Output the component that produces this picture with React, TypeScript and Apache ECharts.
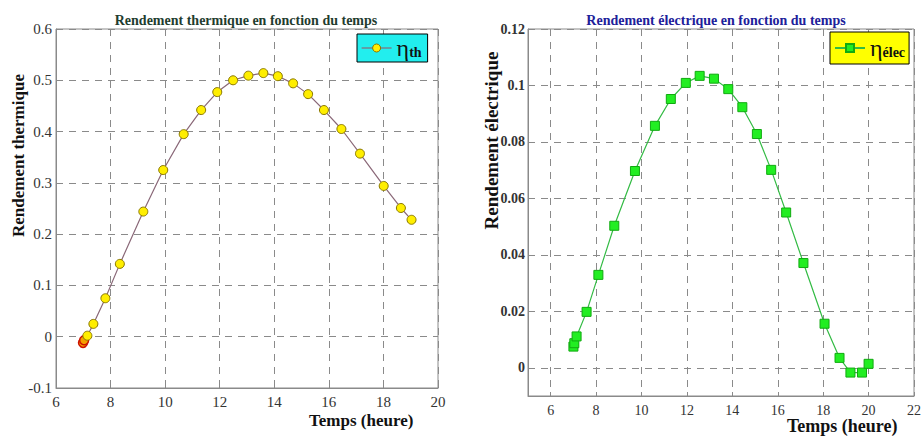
import React, { useEffect, useRef } from "react";
import * as echarts from "echarts";

const xTh = [6.99, 7.03, 7.15, 7.37, 7.81, 8.34, 9.2, 9.93, 10.68, 11.32, 11.91, 12.49, 13.05, 13.6, 14.13, 14.69, 15.24, 15.82, 16.46, 17.14, 18.01, 18.64, 19.03];
const yTh = [-0.012, -0.007, 0.002, 0.025, 0.075, 0.142, 0.244, 0.325, 0.395, 0.442, 0.477, 0.5, 0.509, 0.514, 0.508, 0.494, 0.473, 0.442, 0.405, 0.357, 0.294, 0.251, 0.228];

const xEl = [7.0, 7.04, 7.14, 7.58, 8.1, 8.8, 9.71, 10.59, 11.29, 11.95, 12.56, 13.19, 13.82, 14.44, 15.08, 15.71, 16.37, 17.13, 18.06, 18.72, 19.2, 19.71, 20.0];
const yEl = [0.0075, 0.0087, 0.0111, 0.0198, 0.0329, 0.0503, 0.0697, 0.0857, 0.0952, 0.1009, 0.1034, 0.1024, 0.0987, 0.0923, 0.0828, 0.0701, 0.055, 0.0371, 0.0156, 0.0035, -0.0017, -0.0017, 0.0014];

const elXTicks = [6, 8, 10, 12, 14, 16, 18, 20, 22];
const elYTicks = [0, 0.02, 0.04, 0.06, 0.08, 0.1, 0.12];

const titleTh = "Rendement thermique en fonction du temps";
const titleEl = "Rendement électrique en fonction du temps";
const nameTh = "ηth";
const nameEl = "ηélec";

const SERIF = "Liberation Serif";

export default function App() {
  const ref = useRef<HTMLDivElement>(null);
  useEffect(() => {
    document.body.style.margin = "0";
    const chart = echarts.init(ref.current!, null, { renderer: "svg" });
    const gridLine = { show: true, lineStyle: { color: "#8a8a8a", type: [7, 6] as any, width: 1 } };
    const axisLine = { show: true, onZero: false, lineStyle: { color: "#8a8a8a", width: 1 } };
    const tick = { show: true, inside: true, length: 4, lineStyle: { color: "#8a8a8a" } };
    const lbl = { fontFamily: SERIF, fontSize: 15, color: "#333" };
    const legendRich = {
      g: { fontFamily: SERIF, fontSize: 24, color: "#111", lineHeight: 22 },
      s: { fontFamily: SERIF, fontSize: 14, fontWeight: "bold", color: "#111", padding: [9, 0, 0, 0], lineHeight: 22 },
    };
    chart.setOption({
      animation: false,
      backgroundColor: "#fff",
      title: [
        {
          text: titleTh, left: 241, top: 8, textAlign: "center",
          textStyle: { fontFamily: SERIF, fontSize: 14, fontWeight: "bold", color: "#1f3d2f" },
        },
        {
          text: titleEl, left: 711, top: 8, textAlign: "center",
          textStyle: { fontFamily: SERIF, fontSize: 14, fontWeight: "bold", color: "#20209a" },
        },
      ],
      legend: [
        {
          data: [nameTh], left: 357, top: 34, padding: [2, 6, 2, 4], itemWidth: 30, itemHeight: 10, itemGap: 4,
          backgroundColor: "#22eeee", borderColor: "#000", borderWidth: 1,
          itemStyle: { color: "#ffee00", borderColor: "#8a7800", borderWidth: 1 },
          lineStyle: { color: "#8a6878", width: 1.2 },
          formatter: () => "{g|η}{s|th}", textStyle: { rich: legendRich },
        },
        {
          data: [nameEl], left: 830, top: 32, padding: [4, 4, 4, 4], itemWidth: 30, itemHeight: 10, itemGap: 4,
          backgroundColor: "#ffff00", borderColor: "#000", borderWidth: 1,
          formatter: () => "{g|η}{s|élec}", textStyle: { rich: legendRich },
        },
      ],
      grid: [
        { left: 56, right: 486, top: 29, bottom: 50, show: true, borderColor: "#8a8a8a", borderWidth: 1, backgroundColor: "#fff" },
        { left: 528, right: 8, top: 29, bottom: 42, show: true, borderColor: "#8a8a8a", borderWidth: 1, backgroundColor: "#fff" },
      ],
      xAxis: [
        {
          type: "value", gridIndex: 0, min: 6, max: 20, interval: 2,
          axisLine, axisTick: tick, splitLine: gridLine,
          axisLabel: { ...lbl, fontSize: 15, margin: 6 },
          name: "Temps (heure)", nameLocation: "end", nameGap: -129, nameMoveOverlap: false,
          nameTextStyle: { fontFamily: SERIF, fontSize: 17, fontWeight: "bold", color: "#111", align: "left", verticalAlign: "top", padding: [24, 0, 0, 0] },
        },
        {
          type: "value", gridIndex: 1, min: 5, max: 22,
          axisLine,
          axisTick: { ...tick, customValues: elXTicks },
          splitLine: gridLine,
          axisLabel: { ...lbl, fontSize: 14, margin: 7, customValues: elXTicks },
          name: "Temps (heure)", nameLocation: "end", nameGap: -127, nameMoveOverlap: false,
          nameTextStyle: { fontFamily: SERIF, fontSize: 18, fontWeight: "bold", color: "#111", align: "left", verticalAlign: "top", padding: [21, 0, 0, 0] },
        },
      ],
      yAxis: [
        {
          type: "value", gridIndex: 0, min: -0.1, max: 0.6, interval: 0.1,
          axisLine, axisTick: tick, splitLine: gridLine,
          axisLabel: { ...lbl, margin: 4, formatter: (v: number) => String(Math.round(v * 10) / 10) },
          name: "Rendement thermique", nameLocation: "middle", nameGap: 29, nameRotate: 90, nameMoveOverlap: false,
          nameTextStyle: { fontFamily: SERIF, fontSize: 17, fontWeight: "bold", color: "#111", padding: [0, 0, 0, 106] },
        },
        {
          type: "value", gridIndex: 1, min: -0.01, max: 0.12,
          axisLine,
          axisTick: { ...tick, customValues: elYTicks },
          splitLine: gridLine,
          axisLabel: { ...lbl, fontSize: 14, fontWeight: "bold", margin: 3, customValues: elYTicks, formatter: (v: number) => String(Math.round(v * 100) / 100) },
          name: "Rendement électrique", nameLocation: "middle", nameGap: 27, nameRotate: 90, nameMoveOverlap: false,
          nameTextStyle: { fontFamily: SERIF, fontSize: 19, fontWeight: "bold", color: "#111", padding: [0, 0, 0, 144] },
        },
      ],
      series: [
        {
          name: nameTh, type: "line", xAxisIndex: 0, yAxisIndex: 0,
          data: xTh.map((x, i) => {
            const d: any = { value: [x, yTh[i]] };
            if (i < 2) d.itemStyle = { color: "#f5a000", borderColor: "#cc1100", borderWidth: 1.5 };
            return d;
          }),
          symbol: "circle", symbolSize: 9,
          lineStyle: { color: "#8a6878", width: 1.2 },
          itemStyle: { color: "#ffee00", borderColor: "#8a7800", borderWidth: 1 },
        },
        {
          name: nameEl, type: "line", xAxisIndex: 1, yAxisIndex: 1,
          data: xEl.map((x, i) => [x, yEl[i]]),
          symbol: "rect", symbolSize: 9,
          lineStyle: { color: "#33bb44", width: 1.2 },
          itemStyle: { color: "#22ee22", borderColor: "#11aa11", borderWidth: 1 },
        },
      ],
    });
    return () => chart.dispose();
  }, []);
  return <div ref={ref} style={{ width: 924, height: 438 }} />;
}
